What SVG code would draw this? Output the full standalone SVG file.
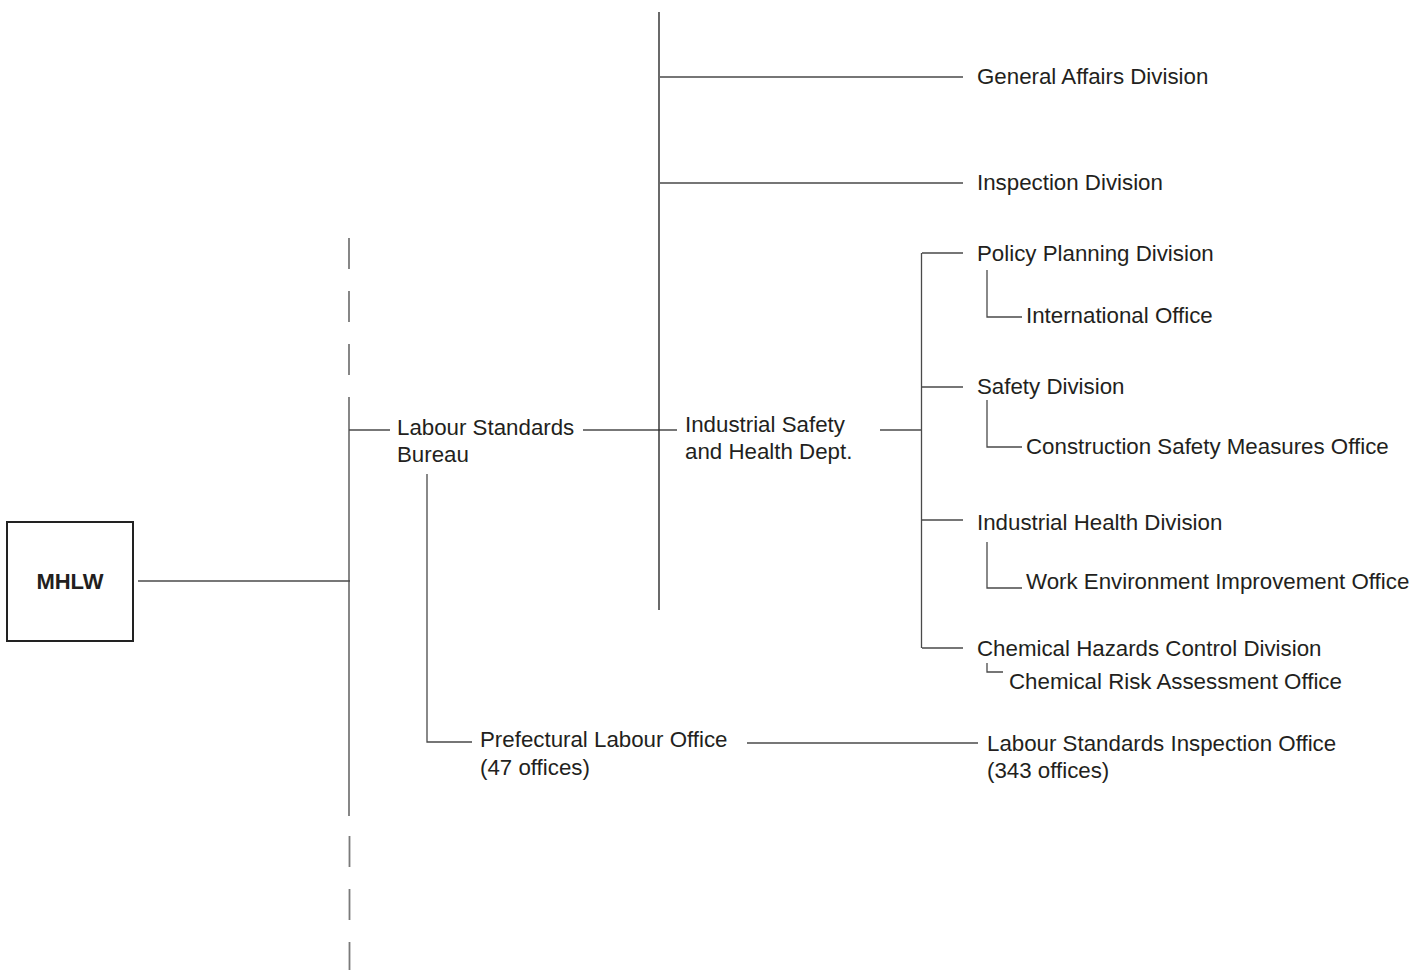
<svg xmlns="http://www.w3.org/2000/svg" width="1423" height="970" viewBox="0 0 1423 970">
<style>
text{font-family:"Liberation Sans",Arial,sans-serif;font-size:22.3px;fill:#231f20}
.b{font-weight:bold;font-size:22px}
.ln{stroke:#4a4a4a;stroke-width:1.3;fill:none}
.dk{stroke:#2a2a2a;stroke-width:1.4;fill:none}
.ds{stroke:#7a7a7a;stroke-width:1.8;fill:none}
</style>
<rect width="1423" height="970" fill="#fff"/>
<g id="connectors">
<path class="ds" d="M349,238V269M349,291V322M349,344V375M349,397V816M349.5,836V867M349.5,889V920M349.5,942V970"/>
<path class="ln" d="M138,581H350"/>
<path class="ln" d="M349,430H390"/>
<path class="ln" d="M583,430H677"/>
<path class="dk" d="M659,12V610"/>
<path class="ln" d="M660,77H963M660,183H963"/>
<path class="ln" d="M880,430H921"/>
<path class="ln" d="M921.5,253V648M922,253H963M922,387H963M922,520H963M922,648H963"/>
<path class="ln" d="M987,270V317H1022M987,400V447H1022M987,542V588H1022M987,663V672H1003"/>
<path class="ln" d="M427,474V742H472"/>
<path class="ln" d="M747,743H978"/>
</g>
<g id="mhlw"><rect x="7" y="522" width="126" height="119" fill="none" stroke="#222" stroke-width="2"/><text class="b" x="70" y="589" text-anchor="middle">MHLW</text></g>
<g id="lsb"><text x="397" y="435">Labour Standards</text><text x="397" y="462">Bureau</text></g>
<g id="ishd"><text x="685" y="432">Industrial Safety</text><text x="685" y="459">and Health Dept.</text></g>
<g id="gad"><text x="977" y="84">General Affairs Division</text></g>
<g id="insp"><text x="977" y="190">Inspection Division</text></g>
<g id="ppd"><text x="977" y="261">Policy Planning Division</text></g>
<g id="intl"><text x="1026" y="323">International Office</text></g>
<g id="sd"><text x="977" y="394">Safety Division</text></g>
<g id="csmo"><text x="1026" y="454">Construction Safety Measures Office</text></g>
<g id="ihd"><text x="977" y="530">Industrial Health Division</text></g>
<g id="weio"><text x="1026" y="589">Work Environment Improvement Office</text></g>
<g id="chcd"><text x="977" y="656">Chemical Hazards Control Division</text></g>
<g id="crao"><text x="1009" y="689">Chemical Risk Assessment Office</text></g>
<g id="plo"><text x="480" y="747">Prefectural Labour Office</text><text x="480" y="775">(47 offices)</text></g>
<g id="lsio"><text x="987" y="751">Labour Standards Inspection Office</text><text x="987" y="778">(343 offices)</text></g>
</svg>
